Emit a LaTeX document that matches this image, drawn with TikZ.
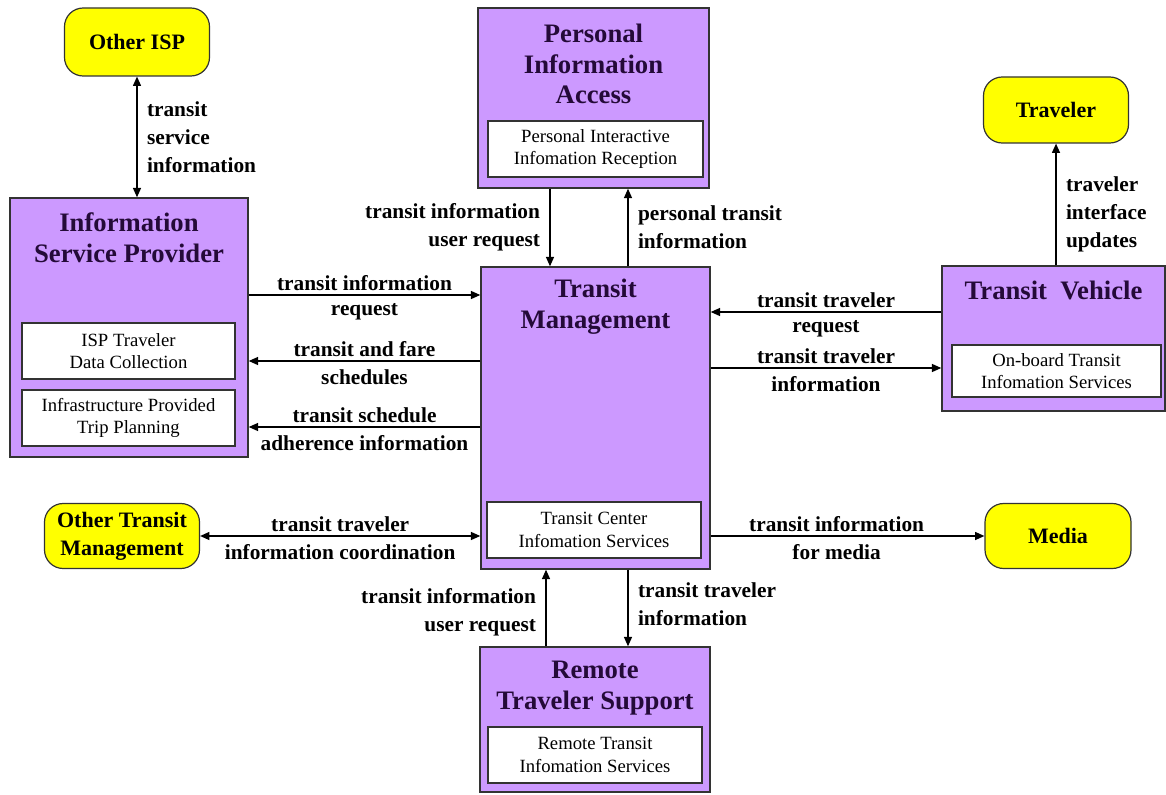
\documentclass[tikz,border=0pt]{standalone}
\usepackage{fontspec}
\setmainfont{Liberation Serif}
\usetikzlibrary{arrows.meta}
\definecolor{boxpurple}{RGB}{204,153,255}
\definecolor{termyellow}{RGB}{255,255,0}
\definecolor{titleink}{RGB}{36,10,56}

\begin{document}
\begin{tikzpicture}[x=.75pt, y=-.75pt,
  purplebox/.style={draw=black!80, line width=1.1pt, fill=boxpurple, inner sep=0pt},
  whitebox/.style={draw=black!80, line width=.9pt, fill=white, align=center, inner sep=0pt, font=\fontsize{14}{17}\selectfont},
  termbox/.style={draw=black!80, line width=.9pt, fill=termyellow, rounded corners=14pt, align=center, inner sep=0pt, font=\fontsize{16.5}{21}\selectfont\bfseries},
  title/.style={align=center, text=titleink, font=\fontsize{20}{23}\selectfont\bfseries},
  lbl/.style={font=\fontsize{16}{21}\selectfont\bfseries, inner sep=2pt},
  lbla/.style={lbl, above, yshift=1pt},
  lblb/.style={lbl, below, yshift=-4pt},
  vlbl/.style={lbl, inner xsep=7pt},
  flow/.style={line width=1pt, -{Triangle[length=7pt,width=6pt]}},
  flows/.style={line width=1pt, {Triangle[length=7pt,width=6pt]}-{Triangle[length=7pt,width=6pt]}}]

  \useasboundingbox (0,0) rectangle (1166,795);

  % terminators
  \node [termbox, minimum width=145*.75pt, minimum height=68*.75pt] (isp) at (137,42) {Other ISP};
  \node [termbox, minimum width=145*.75pt, minimum height=66*.75pt] (trav) at (1056,110) {Traveler};
  \node [termbox, minimum width=155*.75pt, minimum height=65*.75pt] (otm) at (122,536) {Other Transit\\Management};
  \node [termbox, minimum width=146*.75pt, minimum height=65*.75pt] (media) at (1058,536) {Media};

  % subsystems
  \node [purplebox, minimum width=238*.75pt, minimum height=259*.75pt] (infosp) at (129,327.5) {};
  \node [title] (infosptitle) at (129,238) {Information\\Service Provider};
  \node [whitebox, minimum width=213*.75pt, minimum height=56*.75pt] (ispdc) at (128.5,351) {ISP Traveler\\Data Collection};
  \node [whitebox, minimum width=213*.75pt, minimum height=56*.75pt] (iptp) at (128.5,418) {Infrastructure Provided\\Trip Planning};

  \node [purplebox, minimum width=231*.75pt, minimum height=180*.75pt] (pia) at (593.5,98) {};
  \node [title] (piatitle) at (593.5,64) {Personal\\Information\\Access};
  \node [whitebox, minimum width=215*.75pt, minimum height=56*.75pt] (pir) at (595.5,149) {Personal Interactive\\Infomation Reception};

  \node [purplebox, minimum width=229*.75pt, minimum height=302*.75pt] (tm) at (595.5,418) {};
  \node [title] (tmtitle) at (595.5,307) {Transit\\Management};
  \node [whitebox, minimum width=214*.75pt, minimum height=56*.75pt] (tcis) at (594,530) {Transit Center\\Infomation Services};

  \node [purplebox, minimum width=223*.75pt, minimum height=145*.75pt] (tv) at (1053.5,338.5) {};
  \node [title] (tvtitle) at (1053.5,290) {Transit\ \ Vehicle};
  \node [whitebox, minimum width=209*.75pt, minimum height=52*.75pt] (obtis) at (1056.5,371) {On-board Transit\\Infomation Services};

  \node [purplebox, minimum width=230*.75pt, minimum height=145*.75pt] (rts) at (595,719.5) {};
  \node [title] (rtstitle) at (595,688) {Remote\\Traveler Support};
  \node [whitebox, minimum width=214*.75pt, minimum height=56*.75pt] (rtis) at (595,755) {Remote Transit\\Infomation Services};

  % flows
  \draw [flows] (isp.south) -- (isp.south |- infosp.north)
    node [vlbl, right, align=left, midway] (l1) {transit\\service\\information};

  \draw [flow] (infosp.east |- 0,295) -- (tm.west |- 0,295)
    node [lbla, midway] (l2a) {transit information}
    node [lblb, midway] (l2b) {request};
  \draw [flow] (tm.west |- 0,361) -- (infosp.east |- 0,361)
    node [lbla, midway] (l3a) {transit and fare}
    node [lblb, midway] (l3b) {schedules};
  \draw [flow] (tm.west |- 0,427) -- (infosp.east |- 0,427)
    node [lbla, midway] (l4a) {transit schedule}
    node [lblb, midway] (l4b) {adherence information};

  \draw [flow] (pia.south -| 550,0) -- (tm.north -| 550,0)
    node [vlbl, left, align=right, midway] (l5) {transit information\\user request};
  \draw [flow] (tm.north -| 628,0) -- (pia.south -| 628,0)
    node [vlbl, right, align=left, midway] (l6) {personal transit\\information};

  \draw [flow] (tv.north -| trav.south) -- (trav.south)
    node [vlbl, right, align=left, pos=.42] (l7) {traveler\\interface\\updates};

  \draw [flow] (tv.west |- 0,312) -- (tm.east |- 0,312)
    node [lbla, midway] (l8a) {transit traveler}
    node [lblb, midway] (l8b) {request};
  \draw [flow] (tm.east |- 0,368) -- (tv.west |- 0,368)
    node [lbla, midway] (l9a) {transit traveler}
    node [lblb, midway] (l9b) {information};

  \draw [flows] (otm.east) -- (tm.west |- otm.east)
    node [lbla, midway] (l10a) {transit traveler}
    node [lblb, midway] (l10b) {information coordination};
  \draw [flow] (tm.east |- media.west) -- (media.west)
    node [lbla, pos=.46] (l11a) {transit information}
    node [lblb, pos=.46] (l11b) {for media};

  \draw [flow] (rts.north -| 546,0) -- (tm.south -| 546,0)
    node [vlbl, left, align=right, pos=.44] (l12) {transit information\\user request};
  \draw [flow] (tm.south -| 628,0) -- (rts.north -| 628,0)
    node [vlbl, right, align=left, pos=.45] (l13) {transit traveler\\information};
\end{tikzpicture}
\end{document}
